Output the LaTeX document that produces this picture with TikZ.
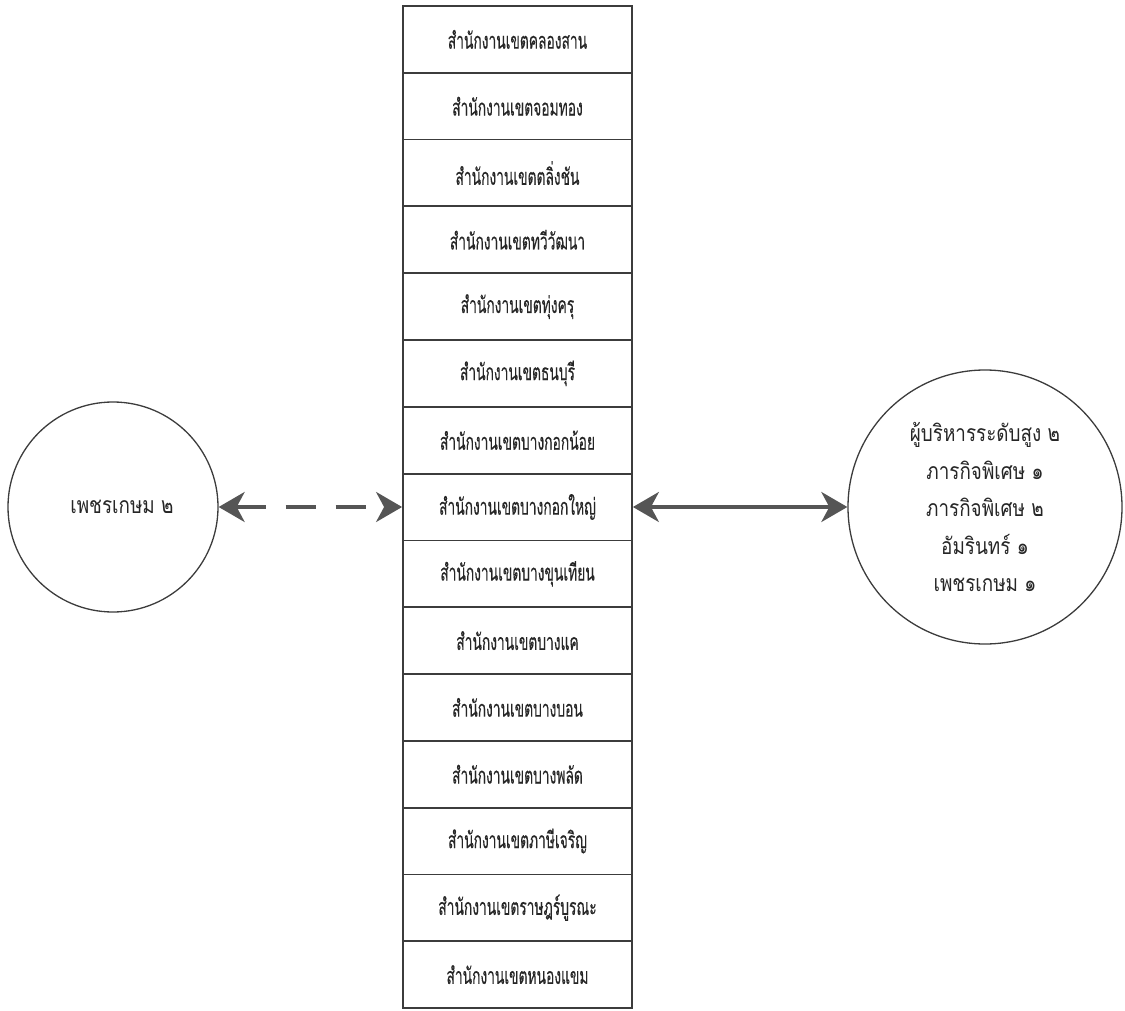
\documentclass[tikz,border=0pt]{standalone}
\usepackage{fontspec}
\newfontfamily\thaifont[Script=Thai,FakeStretch=0.6,FakeBold=0.3]{Loma}
\newfontfamily\thaicirc[Script=Thai,FakeStretch=0.82]{Loma}
\usetikzlibrary{arrows.meta}
\definecolor{ink}{RGB}{60,60,60}
\definecolor{arrowgray}{RGB}{85,85,85}
\begin{document}
\begin{tikzpicture}[x=1pt,y=-1pt,
  rowbox/.style={draw=ink,line width=1.8pt,minimum width=229pt,minimum height=66.8pt,inner sep=0pt,text=black!85,font=\thaifont\fontsize{23}{28}\selectfont},
  circ/.style={draw=ink,line width=1.3pt,circle,inner sep=0pt,font=\thaicirc\fontsize{23}{37.5}\selectfont,align=center,text=black!85},
  bigarrow/.style={line width=3.5pt,draw=arrowgray,{Stealth[length=26pt,width=30pt,inset=8pt]}-{Stealth[length=26pt,width=30pt,inset=8pt]}}
]
\useasboundingbox (0,0) rectangle (1125,1011);
\foreach \i/\t in {1/สำนักงานเขตคลองสาน,2/สำนักงานเขตจอมทอง,3/สำนักงานเขตตลิ่งชัน,4/สำนักงานเขตทวีวัฒนา,5/สำนักงานเขตทุ่งครุ,6/สำนักงานเขตธนบุรี,7/สำนักงานเขตบางกอกน้อย,8/สำนักงานเขตบางกอกใหญ่,9/สำนักงานเขตบางขุนเทียน,10/สำนักงานเขตบางแค,11/สำนักงานเขตบางบอน,12/สำนักงานเขตบางพลัด,13/สำนักงานเขตภาษีเจริญ,14/สำนักงานเขตราษฎร์บูรณะ,15/สำนักงานเขตหนองแขม}{
  \node[rowbox] (r\i) at (517.5,{6+66.8*(\i-0.5)}) {\t};
}
\node[circ,minimum size=210pt] (left) at (113,507) {\hspace*{18pt}เพชรเกษม ๒};
\node[circ,minimum size=274pt] (right) at (985,507) {\raisebox{-10pt}{\parbox{200pt}{\centering ผู้บริหารระดับสูง ๒\\ภารกิจพิเศษ ๑\\ภารกิจพิเศษ ๒\\อัมรินทร์ ๑\\เพชรเกษม ๑}}};
\draw[bigarrow,dash pattern=on 30pt off 20pt] (left.east) -- (r8.west);
\draw[bigarrow] (r8.east) -- (right.west);
\end{tikzpicture}
\end{document}
